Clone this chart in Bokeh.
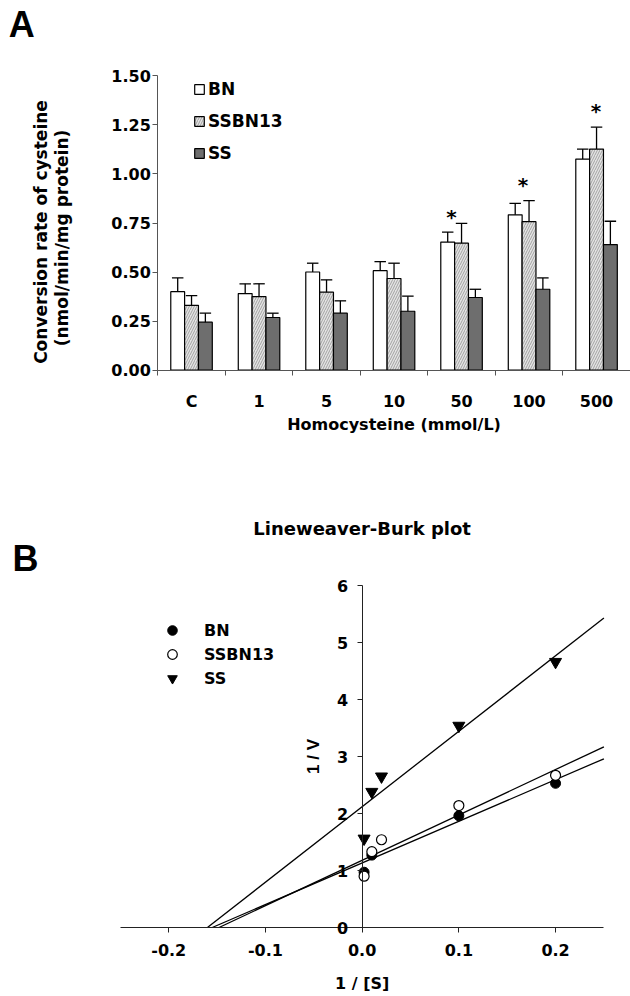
from bokeh.plotting import figure
from bokeh.models import (Range1d, FixedTicker, NumeralTickFormatter, Legend, LegendItem,
                          Label, ColumnDataSource)
from bokeh.layouts import column
from bokeh.core.properties import value
from bokeh.embed import file_html
from bokeh.resources import INLINE

# ---------------- Panel A data ----------------
categories = ["C", "1", "5", "10", "50", "100", "500"]
bn_mean = [0.40, 0.39, 0.50, 0.507, 0.653, 0.792, 1.076]
bn_err = [0.07, 0.05, 0.045, 0.046, 0.051, 0.058, 0.051]
ssbn13_mean = [0.33, 0.375, 0.397, 0.467, 0.647, 0.757, 1.127]
ssbn13_err = [0.05, 0.065, 0.063, 0.078, 0.101, 0.107, 0.112]
ss_mean = [0.244, 0.268, 0.29, 0.30, 0.37, 0.412, 0.64]
ss_err = [0.046, 0.022, 0.063, 0.077, 0.042, 0.058, 0.119]
sig_categories = ["50", "100", "500"]
sig_star_y = [0.80, 0.965, 1.34]
sig_star_dx = [-0.15, -0.09, -0.01]
y_ticks_a = [0.0, 0.25, 0.50, 0.75, 1.00, 1.25, 1.50]

# ---------------- Panel B data ----------------
bn_inv_s = [0.002, 0.01, 0.1, 0.2]
bn_inv_v = [0.97, 1.27, 1.96, 2.53]
ssbn13_inv_s = [0.002, 0.01, 0.02, 0.1, 0.2]
ssbn13_inv_v = [0.90, 1.33, 1.54, 2.14, 2.67]
ss_inv_s = [0.002, 0.01, 0.02, 0.1, 0.2]
ss_inv_v = [1.56, 2.38, 2.65, 3.54, 4.66]
fit_names = ["BN", "SSBN13", "SS"]
fit_x_intercept = [-0.155, -0.148, -0.160]
fit_y_at_end = [2.96, 3.17, 5.43]
x_ticks_b = [-0.2, -0.1, 0.0, 0.1, 0.2]
x_bounds_b = (-0.25, 0.25)
y_ticks_b = [0, 1, 2, 3, 4, 5, 6]

FONT = "DejaVu Sans"
AX_A = "#555555"
AX_B = "#222222"
W = 630


def style_axis(ax, color, size="16px"):
    ax.axis_line_color = color
    ax.major_tick_line_color = color
    ax.minor_tick_line_color = color
    ax.major_label_text_font = FONT
    ax.major_label_text_font_style = "bold"
    ax.major_label_text_font_size = size
    ax.major_label_text_color = "black"


# =============== Panel A ===============
HA = 446
ncat = len(categories)
# the frame fills the whole canvas; axes are pinned at x=0 / y=0
pA = figure(width=W, height=HA, output_backend="svg", toolbar_location=None,
            x_range=Range1d(-2.330, 7.003), y_range=Range1d(-0.390, 1.885),
            min_border_left=0, min_border_right=0, min_border_top=0, min_border_bottom=0)
pA.outline_line_color = None
pA.xgrid.visible = False
pA.ygrid.visible = False

centers = [i + 0.5 for i in range(ncat)]
bar_w = 0.205
series = [
    ("BN", bn_mean, bn_err, -0.205, dict(fill_color="white")),
    ("SSBN13", ssbn13_mean, ssbn13_err, 0.0,
     dict(fill_color="#e4e4e4", hatch_pattern="/", hatch_color="#9a9a9a", hatch_scale=5, hatch_weight=0.9)),
    ("SS", ss_mean, ss_err, 0.205, dict(fill_color="#6e6e6e")),
]
bar_renderers = []
for name, mean, err, off, style in series:
    xs = [c + off for c in centers]
    src = ColumnDataSource(dict(
        x=xs, top=mean, etop=[m + e for m, e in zip(mean, err)],
        xl=[x - 0.085 for x in xs], xr=[x + 0.085 for x in xs]))
    r = pA.vbar(x="x", top="top", bottom=0, width=bar_w, source=src,
                line_color="black", line_width=1.2, **style)
    pA.segment(x0="x", y0="top", x1="x", y1="etop", source=src, line_color="black", line_width=1.3)
    pA.segment(x0="xl", y0="etop", x1="xr", y1="etop", source=src, line_color="black", line_width=1.3)
    bar_renderers.append((name, r))

star_x = [centers[categories.index(c)] + dx for c, dx in zip(sig_categories, sig_star_dx)]
pA.text(x=star_x, y=sig_star_y, text=["*"] * len(star_x), text_align="center",
        text_baseline="middle", y_offset=4, text_font=value(FONT), text_font_style="bold",
        text_font_size="20px", text_color="black")

xa = pA.xaxis[0]
xa.fixed_location = 0
xa.bounds = (0, ncat)
xa.ticker = FixedTicker(ticks=centers, minor_ticks=list(range(ncat + 1)))
xa.major_label_overrides = {c: lab for c, lab in zip(centers, categories)}
style_axis(xa, AX_A)
xa.major_tick_out = 0
xa.major_tick_in = 0
xa.minor_tick_out = 5
xa.minor_tick_in = 0
xa.major_label_standoff = 17

ya = pA.yaxis[0]
ya.fixed_location = 0
ya.bounds = (y_ticks_a[0], y_ticks_a[-1])
ya.ticker = FixedTicker(ticks=y_ticks_a)
ya.formatter = NumeralTickFormatter(format="0.00")
style_axis(ya, AX_A)
ya.major_tick_out = 5
ya.major_tick_in = 0
ya.minor_tick_out = 0
ya.minor_tick_in = 0
ya.major_label_standoff = 2

y_mid_a = (y_ticks_a[0] + y_ticks_a[-1]) / 2
pA.add_layout(Label(x=ncat / 2, y=0, y_offset=-54, text="Homocysteine (mmol/L)",
                    text_align="center", text_baseline="middle", text_color="black",
                    text_font=FONT, text_font_style="bold", text_font_size="16px"))
pA.add_layout(Label(x=0, y=y_mid_a, x_offset=-117, y_offset=-9, angle=1.5708,
                    text="Conversion rate of cysteine", text_align="center", text_baseline="middle",
                    text_color="black", text_font=FONT, text_font_style="bold", text_font_size="17px"))
pA.add_layout(Label(x=0, y=y_mid_a, x_offset=-96, y_offset=-15, angle=1.5708,
                    text="(nmol/min/mg protein)", text_align="center", text_baseline="middle",
                    text_color="black", text_font=FONT, text_font_style="bold", text_font_size="17px"))
pA.add_layout(Label(x=0, y=y_ticks_a[-1], x_offset=-149, y_offset=51, text="A",
                    text_align="left", text_baseline="middle", text_color="black",
                    text_font="Liberation Sans", text_font_style="bold", text_font_size="36px"))

legA = Legend(items=[LegendItem(label=n, renderers=[r]) for n, r in bar_renderers],
              location=(193, 282), orientation="vertical", padding=0, margin=0, spacing=10,
              glyph_width=12, glyph_height=12, label_height=22, label_standoff=3,
              label_text_font=FONT, label_text_font_style="bold", label_text_font_size="17px",
              label_text_color="black", border_line_color=None, background_fill_alpha=0)
pA.add_layout(legA)

# =============== Panel B ===============
HB = 550
pB = figure(width=W, height=HB, output_backend="svg", toolbar_location=None,
            x_range=Range1d(-0.374, 0.2775), y_range=Range1d(-1.2105, 8.439),
            min_border_left=0, min_border_right=0, min_border_top=0, min_border_bottom=0)
pB.outline_line_color = None
pB.xgrid.visible = False
pB.ygrid.visible = False

for x0, yend in zip(fit_x_intercept, fit_y_at_end):
    pB.line(x=[x0, x_bounds_b[1]], y=[0, yend], line_color="black", line_width=1.3)

r_bn = pB.scatter(bn_inv_s, bn_inv_v, marker="circle", size=10, fill_color="black", line_color="black")
r_ssbn = pB.scatter(ssbn13_inv_s, ssbn13_inv_v, marker="circle", size=10, fill_color="white",
                    line_color="black", line_width=1.2)
r_ss = pB.scatter(ss_inv_s, ss_inv_v, marker="inverted_triangle", size=12, fill_color="black",
                  line_color="black")

xb = pB.xaxis[0]
xb.fixed_location = 0
xb.bounds = x_bounds_b
xb.ticker = FixedTicker(ticks=x_ticks_b)
xb.formatter = NumeralTickFormatter(format="0.0")
style_axis(xb, AX_B)
xb.major_tick_out = 5
xb.major_tick_in = 0
xb.minor_tick_out = 0
xb.minor_tick_in = 0
xb.major_label_standoff = 11

yb = pB.yaxis[0]
yb.fixed_location = 0
yb.bounds = (y_ticks_b[0], y_ticks_b[-1])
yb.ticker = FixedTicker(ticks=y_ticks_b)
style_axis(yb, AX_B)
yb.major_tick_out = 5
yb.major_tick_in = 0
yb.minor_tick_out = 0
yb.minor_tick_in = 0
yb.major_label_standoff = 9

y_mid_b = (y_ticks_b[0] + y_ticks_b[-1]) / 2
pB.add_layout(Label(x=0, y=y_mid_b, x_offset=-49, text="1 / V", angle=1.5708,
                    text_align="center", text_baseline="middle", text_color="black",
                    text_font="Liberation Sans", text_font_style="bold", text_font_size="17px"))
pB.add_layout(Label(x=0, y=0, y_offset=-56, text="1 / [S]", text_align="center",
                    text_baseline="middle", text_color="black",
                    text_font=FONT, text_font_style="bold", text_font_size="16px"))
pB.add_layout(Label(x=0, y=y_ticks_b[-1], y_offset=57, text="Lineweaver-Burk plot",
                    text_align="center", text_baseline="middle", text_color="black",
                    text_font=FONT, text_font_style="bold", text_font_size="18px"))
pB.add_layout(Label(x=x_bounds_b[0], y=y_ticks_b[-1], x_offset=-108, y_offset=27, text="B",
                    text_align="left", text_baseline="middle", text_color="black",
                    text_font="Liberation Sans", text_font_style="bold", text_font_size="36px"))

legB = Legend(items=[LegendItem(label="BN", renderers=[r_bn]),
                     LegendItem(label="SSBN13", renderers=[r_ssbn]),
                     LegendItem(label="SS", renderers=[r_ss])],
              location=(160, 306), orientation="vertical", padding=0, margin=0, spacing=0,
              glyph_width=24, glyph_height=24, label_height=24, label_standoff=20,
              label_text_font=FONT, label_text_font_style="bold", label_text_font_size="16px",
              label_text_color="black", border_line_color=None, background_fill_alpha=0)
pB.add_layout(legB)

layout = column(pA, pB)
open("out.html", "w").write(file_html(layout, INLINE))
